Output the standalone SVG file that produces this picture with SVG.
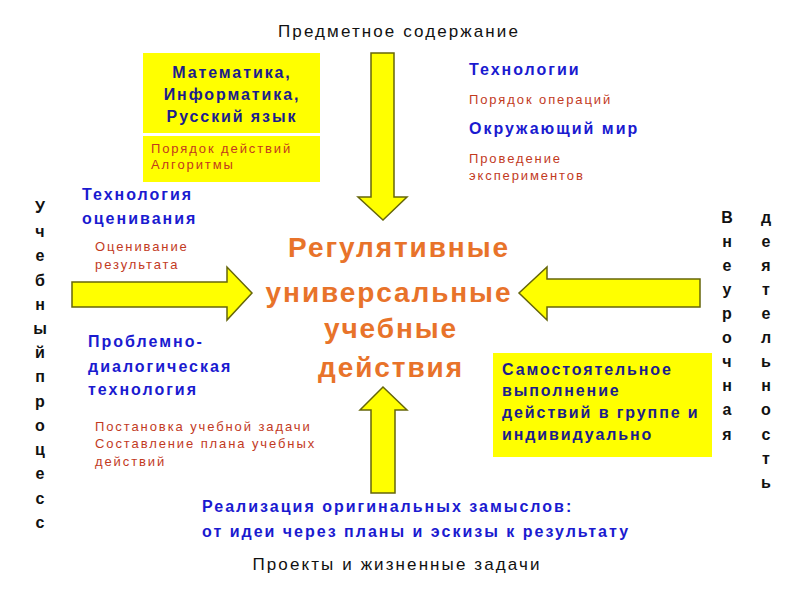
<svg xmlns="http://www.w3.org/2000/svg" width="800" height="600" viewBox="0 0 800 600">
<style>
text{font-family:"Liberation Sans",Arial,sans-serif}
.blk{fill:#111;font-size:17px;letter-spacing:2.1px}
.box{fill:#ffff00}
.navy{fill:#1c1c8c;font-weight:bold;font-size:16px;letter-spacing:1.9px}
.blue{fill:#1a1ad0;font-weight:bold;font-size:16px;letter-spacing:2px}
.red{fill:#c23a1e;font-size:13px;letter-spacing:1.9px}
.title{fill:#e8732a;font-weight:bold;font-size:28px;letter-spacing:1.9px;text-anchor:middle}
.vert{fill:#111;font-weight:bold;font-size:16px;text-anchor:middle}
.arrow{fill:#ffff00;stroke:#66660a;stroke-width:1.5;stroke-linejoin:miter}
</style>
<rect width="800" height="600" fill="#fff"/>
<g id="connectors">
<polygon class="arrow" points="371,53 394,53 394,197 407,197 383,220 358,197 371,197"/>
<polygon class="arrow" points="72,282 227,282 227,267 252,293 227,320 227,307 72,307"/>
<polygon class="arrow" points="700,279 547,279 547,267 519,293 547,320 547,307 700,307"/>
<polygon class="arrow" points="371,493 395,493 395,410 407,410 383,387 360,410 371,410"/>
</g>
<g id="top-label"><text class="blk" x="399" y="37" text-anchor="middle">Предметное содержание</text></g>
<g id="subjects">
<rect class="box" x="143" y="53" width="177" height="80"/>
<rect class="box" x="143" y="136" width="177" height="46"/>
<text class="navy" x="232" y="78" text-anchor="middle">Математика,</text>
<text class="navy" x="232" y="100" text-anchor="middle">Информатика,</text>
<text class="navy" x="232" y="122" text-anchor="middle">Русский язык</text>
<text class="red" x="151" y="153">Порядок действий</text>
<text class="red" x="151" y="169">Алгоритмы</text>
</g>
<g id="technologies">
<text class="blue" x="469" y="75">Технологии</text>
<text class="red" x="469" y="104">Порядок операций</text>
<text class="blue" x="469" y="134">Окружающий мир</text>
<text class="red" x="469" y="163">Проведение</text>
<text class="red" x="469" y="180">экспериментов</text>
</g>
<g id="assessment">
<text class="blue" x="82" y="200">Технология</text>
<text class="blue" x="82" y="224">оценивания</text>
<text class="red" x="95" y="251">Оценивание</text>
<text class="red" x="95" y="269">результата</text>
</g>
<g id="center">
<text class="title" x="399" y="257">Регулятивные</text>
<text class="title" x="389" y="302">универсальные</text>
<text class="title" x="391" y="338">учебные</text>
<text class="title" x="391" y="377">действия</text>
</g>
<g id="dialog">
<text class="blue" x="88" y="347">Проблемно-</text>
<text class="blue" x="88" y="372">диалогическая</text>
<text class="blue" x="88" y="395">технология</text>
<text class="red" x="95" y="431">Постановка учебной задачи</text>
<text class="red" x="95" y="448">Составление плана учебных</text>
<text class="red" x="95" y="466">действий</text>
</g>
<g id="independent">
<rect class="box" x="493" y="353" width="219" height="104"/>
<text class="navy" x="502" y="375">Самостоятельное</text>
<text class="navy" x="502" y="396">выполнение</text>
<text class="navy" x="502" y="418">действий в группе и</text>
<text class="navy" x="502" y="440">индивидуально</text>
</g>
<g id="projects">
<text class="blue" x="202" y="512">Реализация оригинальных замыслов:</text>
<text class="blue" x="202" y="537">от идеи через планы и эскизы к результату</text>
<text class="blk" x="397" y="570" text-anchor="middle">Проекты и жизненные задачи</text>
</g>
<g id="learning-process">
<text class="vert" x="40" y="213">У</text>
<text class="vert" x="40" y="237">ч</text>
<text class="vert" x="40" y="261">е</text>
<text class="vert" x="40" y="286">б</text>
<text class="vert" x="40" y="310">н</text>
<text class="vert" x="40" y="334">ы</text>
<text class="vert" x="40" y="358">й</text>
<text class="vert" x="40" y="382">п</text>
<text class="vert" x="40" y="407">р</text>
<text class="vert" x="40" y="431">о</text>
<text class="vert" x="40" y="455">ц</text>
<text class="vert" x="40" y="479">е</text>
<text class="vert" x="40" y="504">с</text>
<text class="vert" x="40" y="528">с</text>
</g>
<g id="extracurricular">
<text class="vert" x="727" y="223">В</text>
<text class="vert" x="727" y="247">н</text>
<text class="vert" x="727" y="271">е</text>
<text class="vert" x="727" y="295">у</text>
<text class="vert" x="727" y="319">р</text>
<text class="vert" x="727" y="343">о</text>
<text class="vert" x="727" y="367">ч</text>
<text class="vert" x="727" y="391">н</text>
<text class="vert" x="727" y="415">а</text>
<text class="vert" x="727" y="440">я</text>
<text class="vert" x="766" y="223">д</text>
<text class="vert" x="766" y="247">е</text>
<text class="vert" x="766" y="271">я</text>
<text class="vert" x="766" y="295">т</text>
<text class="vert" x="766" y="319">е</text>
<text class="vert" x="766" y="343">л</text>
<text class="vert" x="766" y="367">ь</text>
<text class="vert" x="766" y="391">н</text>
<text class="vert" x="766" y="415">о</text>
<text class="vert" x="766" y="440">с</text>
<text class="vert" x="766" y="464">т</text>
<text class="vert" x="766" y="488">ь</text>
</g>
</svg>
